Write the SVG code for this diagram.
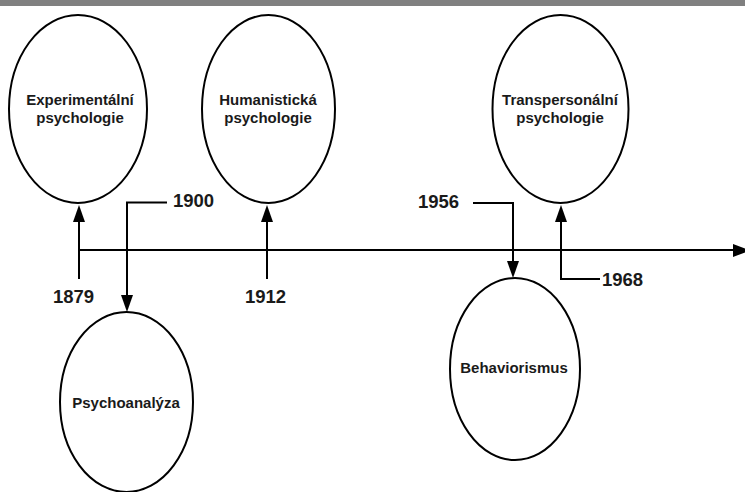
<svg xmlns="http://www.w3.org/2000/svg" width="745" height="492" viewBox="0 0 745 492">
<style>
.node ellipse{fill:#fff;stroke:#000;stroke-width:2}
.lbl{font-family:"Liberation Sans",Arial,sans-serif;font-weight:bold;font-size:15px;fill:#1a1a1a;text-anchor:middle}
.yr{font-family:"Liberation Sans",Arial,sans-serif;font-weight:bold;font-size:18.5px;fill:#1a1a1a}
.con path{fill:none;stroke:#000;stroke-width:2}
.con polygon{fill:#000}
</style>
<rect x="0" y="0" width="745" height="6" fill="#808080"/>
<g class="con">
<path d="M79,250 H740"/>
<polygon points="733,244 750,250.5 733,257"/>
<path d="M79,279 V222"/>
<polygon points="73,222 79,205 85,222"/>
<path d="M167,202.5 H127 V295"/>
<polygon points="121,295 127,312 133,295"/>
<path d="M267,279 V222"/>
<polygon points="261,222 267,205 273,222"/>
<path d="M473,203 H513 V261"/>
<polygon points="507,261 513,278 519,261"/>
<path d="M600,279 H561 V222"/>
<polygon points="555,222 561,205 567,222"/>
</g>
<g id="n-exp" class="node">
<ellipse cx="78" cy="109" rx="69" ry="94"/>
<text class="lbl" x="80" y="105">Experimentální</text>
<text class="lbl" x="80" y="123">psychologie</text>
</g>
<g id="n-hum" class="node">
<ellipse cx="268.5" cy="109" rx="66.5" ry="94"/>
<text class="lbl" x="268" y="105">Humanistická</text>
<text class="lbl" x="268" y="123">psychologie</text>
</g>
<g id="n-trans" class="node">
<ellipse cx="560.5" cy="109" rx="68" ry="94"/>
<text class="lbl" x="560" y="105">Transpersonální</text>
<text class="lbl" x="560" y="123">psychologie</text>
</g>
<g id="n-psa" class="node">
<ellipse cx="126.5" cy="402" rx="66.5" ry="90"/>
<text class="lbl" x="126" y="408">Psychoanalýza</text>
</g>
<g id="n-beh" class="node">
<ellipse cx="515" cy="369" rx="65" ry="91"/>
<text class="lbl" x="514" y="373">Behaviorismus</text>
</g>
<g id="years">
<text class="yr" x="53" y="303">1879</text>
<text class="yr" x="173" y="207">1900</text>
<text class="yr" x="245" y="303">1912</text>
<text class="yr" x="418" y="208">1956</text>
<text class="yr" x="602" y="286">1968</text>
</g>
</svg>
